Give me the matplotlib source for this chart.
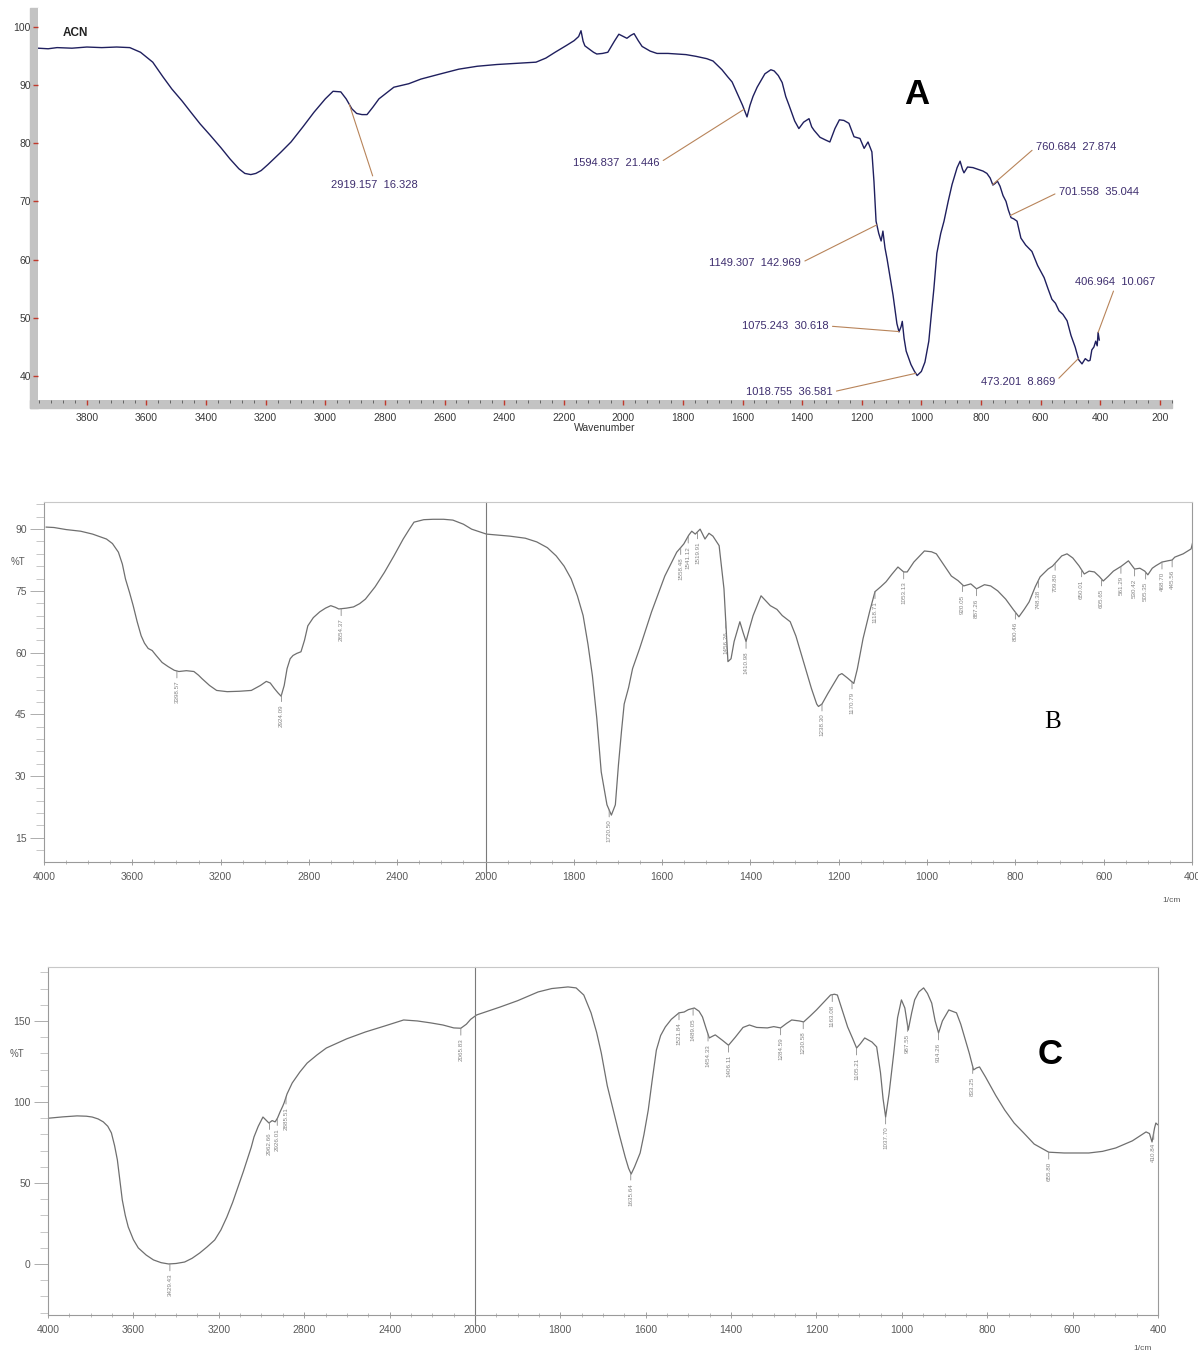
import numpy as np
import matplotlib.pyplot as plt
from matplotlib.patches import Rectangle
from matplotlib.ticker import FixedLocator, MultipleLocator

plt.rcParams['font.family'] = ['Liberation Sans', 'DejaVu Sans']

W, H = 1198, 1352

# ---- panel A (ACN): wavenumber (cm-1) / %T
a_wavenumber = [
    3964, 3930, 3900, 3850, 3800, 3750, 3700, 3656, 3620, 3579,
    3545, 3515, 3480, 3451, 3420, 3387, 3350, 3320, 3290, 3270,
    3250, 3233, 3215, 3193, 3150, 3115, 3075, 3038, 3000, 2974,
    2948, 2930, 2911, 2895, 2877, 2860, 2840, 2820, 2770, 2720,
    2679, 2620, 2552, 2490, 2424, 2360, 2293, 2260, 2229, 2190,
    2165, 2150, 2142, 2135, 2129, 2100, 2089, 2070, 2052, 2030,
    2015, 2000, 1988, 1975, 1964, 1950, 1937, 1910, 1887, 1850,
    1820, 1790, 1756, 1720, 1699, 1669, 1650, 1635, 1615, 1600,
    1585, 1575, 1565, 1551, 1525, 1505, 1494, 1480, 1467, 1455,
    1444, 1425, 1411, 1395, 1377, 1368, 1360, 1340, 1320, 1307,
    1290, 1275, 1260, 1243, 1226, 1206, 1192, 1179, 1166, 1159,
    1152, 1143, 1135, 1129, 1122, 1115, 1095, 1082, 1075, 1068,
    1064, 1058, 1051, 1035, 1024, 1014, 1000, 988, 975, 968,
    958, 948, 935, 924, 910, 897, 880, 870, 862, 857,
    845, 827, 810, 793, 780, 769, 760, 752, 745, 736,
    726, 716, 708, 699, 690, 679, 666, 650, 629, 610,
    588, 575, 562, 550, 538, 525, 511, 498, 484, 472,
    461, 450, 440, 434, 428, 421, 415, 410, 407, 403,
]
a_transmittance = [
    96.3, 96.2, 96.4, 96.3, 96.5, 96.4, 96.5, 96.4, 95.6, 93.9,
    91.4, 89.3, 87.2, 85.3, 83.3, 81.4, 79.2, 77.3, 75.6, 74.8,
    74.6, 74.8, 75.3, 76.3, 78.4, 80.2, 82.8, 85.3, 87.6, 88.9,
    88.8, 87.6, 85.9, 85.1, 84.9, 84.9, 86.2, 87.6, 89.6, 90.2,
    91.0, 91.8, 92.7, 93.2, 93.5, 93.7, 93.9, 94.6, 95.6, 96.8,
    97.6, 98.3, 99.3, 97.5, 96.7, 95.6, 95.3, 95.4, 95.6, 97.5,
    98.7, 98.3, 98.0, 98.5, 98.8, 97.6, 96.6, 95.8, 95.4, 95.4,
    95.3, 95.2, 94.9, 94.5, 94.1, 92.6, 91.4, 90.5, 88.2, 86.5,
    84.5, 86.5, 88.0, 89.6, 91.9, 92.6, 92.4, 91.6, 90.4, 88.0,
    86.5, 83.8, 82.5, 83.6, 84.2, 82.8, 82.2, 81.0, 80.5, 80.2,
    82.5, 84.0, 83.9, 83.4, 81.1, 80.8, 79.1, 80.2, 78.5, 73.4,
    66.6, 64.5, 63.2, 64.9, 62.0, 60.1, 53.9, 49.0, 47.6, 48.5,
    49.4, 46.5, 44.3, 42.0, 40.9, 40.1, 40.8, 42.4, 46.0, 49.8,
    55.0, 61.1, 64.5, 66.6, 70.0, 72.9, 75.8, 76.9, 75.5, 74.9,
    75.9, 75.8, 75.5, 75.2, 74.8, 74.0, 72.8, 73.1, 73.5, 72.6,
    71.0, 70.0, 68.5, 67.2, 67.0, 66.6, 63.7, 62.5, 61.4, 59.0,
    56.9, 55.0, 53.2, 52.5, 51.2, 50.6, 49.5, 47.0, 45.0, 42.8,
    42.1, 43.0, 42.6, 42.7, 44.5, 45.0, 46.0, 45.2, 47.5, 46.2,
]
a_peak_wn = [2919.157, 1594.837, 760.684, 701.558, 1149.307, 1075.243, 1018.755, 473.201, 406.964]
a_peak_text = ["2919.157  16.328", "1594.837  21.446", "760.684  27.874", "701.558  35.044",
               "1149.307  142.969", "1075.243  30.618", "1018.755  36.581", "473.201  8.869",
               "406.964  10.067"]

# ---- panel B
b_wavenumber = [
    3990, 3955, 3900, 3834, 3780, 3717, 3690, 3663, 3645, 3631,
    3612, 3596, 3578, 3560, 3545, 3528, 3510, 3492, 3465, 3438,
    3410, 3389, 3355, 3321, 3300, 3285, 3250, 3218, 3170, 3115,
    3061, 3020, 2993, 2975, 2957, 2940, 2926, 2912, 2899, 2885,
    2872, 2855, 2836, 2820, 2805, 2780, 2751, 2725, 2701, 2680,
    2665, 2630, 2598, 2570, 2544, 2500, 2458, 2415, 2373, 2345,
    2324, 2280, 2238, 2190, 2148, 2100, 2063, 2030, 1998, 1945,
    1910, 1884, 1860, 1840, 1822, 1806, 1792, 1779, 1768, 1758,
    1748, 1738, 1725, 1715, 1706, 1699, 1692, 1686, 1676, 1667,
    1651, 1624, 1594, 1567, 1551, 1540, 1533, 1525, 1514, 1503,
    1494, 1485, 1471, 1460, 1451, 1444, 1437, 1424, 1417, 1410,
    1402, 1394, 1376, 1355, 1340, 1328, 1310, 1297, 1284, 1262,
    1250, 1246, 1238, 1225, 1214, 1200, 1193, 1180, 1166, 1158,
    1145, 1130, 1118, 1105, 1093, 1080, 1066, 1053, 1045, 1030,
    1006, 990, 979, 960, 945, 930, 917, 901, 888, 870,
    856, 840, 822, 805, 792, 780, 769, 755, 744, 726,
    716, 705, 695, 683, 670, 656, 644, 633, 621, 610,
    601, 590, 578, 560, 544, 530, 518, 507, 500, 490,
    482, 468, 455, 445, 439, 420, 402, 398,
]
b_transmittance = [
    90.5, 90.4, 89.9, 89.5, 88.8, 87.6, 86.5, 84.4, 81.5, 77.9,
    74.5, 71.4, 67.5, 64.1, 62.3, 61.0, 60.5, 59.3, 57.6, 56.6,
    55.7, 55.4, 55.6, 55.4, 54.5, 53.7, 52.0, 50.8, 50.5, 50.6,
    50.8, 52.0, 53.0, 52.6, 51.3, 50.2, 49.4, 52.0, 56.1, 58.5,
    59.3, 59.8, 60.2, 63.0, 66.5, 68.5, 69.9, 70.8, 71.4, 71.0,
    70.6, 70.8, 71.1, 71.9, 73.0, 76.0, 79.5, 83.5, 87.6, 90.0,
    91.7, 92.3, 92.4, 92.4, 92.2, 91.2, 90.0, 89.4, 88.8, 88.3,
    87.8, 86.9, 85.5, 83.5, 81.0, 77.9, 73.8, 69.0, 62.0, 54.4,
    44.0, 31.0, 23.0, 20.5, 23.0, 32.7, 41.0, 47.5, 51.5, 56.1,
    61.0, 69.9, 78.6, 84.4, 86.4, 88.5, 89.5, 88.8, 90.0, 87.6,
    89.0, 88.3, 86.0, 75.5, 57.8, 58.5, 62.7, 67.5, 65.0, 62.7,
    66.0, 69.0, 73.8, 71.4, 70.5, 69.0, 67.5, 64.0, 59.3, 51.3,
    47.5, 46.9, 47.5, 50.0, 52.0, 54.5, 54.9, 53.8, 52.5, 56.0,
    63.4, 70.0, 74.8, 76.0, 77.2, 79.0, 80.8, 79.6, 79.6, 82.0,
    84.7, 84.5, 84.0, 81.0, 78.6, 77.5, 76.2, 76.7, 75.5, 76.5,
    76.2, 75.0, 73.0, 70.5, 68.7, 70.5, 72.3, 76.0, 78.4, 80.3,
    81.0, 82.3, 83.5, 84.0, 83.0, 81.1, 79.1, 79.8, 79.6, 78.5,
    77.4, 78.5, 79.8, 81.0, 82.3, 80.3, 80.5, 79.8, 78.9, 80.5,
    81.1, 82.0, 82.3, 82.5, 83.2, 84.0, 85.2, 87.0,
]
b_peak_wn = [3398, 2924, 2654, 1720, 1558, 1541, 1520, 1456, 1410, 1238, 1170, 1118, 1053,
             920, 888, 800, 748, 710, 650, 605, 561, 530, 505, 468, 445]
b_peak_text = ["3398.57", "2924.09", "2654.37", "1720.50", "1558.48", "1541.12", "1519.91",
               "1456.26", "1410.98", "1238.30", "1170.79", "1118.71", "1053.13", "920.05",
               "887.26", "800.46", "748.38", "709.80", "650.01", "605.65", "561.29", "530.42",
               "505.35", "468.70", "445.56"]

# ---- panel C
c_wavenumber = [
    3995, 3930, 3864, 3820, 3793, 3765, 3741, 3720, 3703, 3688,
    3675, 3662, 3652, 3638, 3624, 3600, 3577, 3540, 3506, 3470,
    3435, 3400, 3360, 3325, 3289, 3255, 3219, 3190, 3162, 3135,
    3110, 3085, 3063, 3048, 3035, 3015, 2993, 2980, 2965, 2950,
    2936, 2925, 2913, 2900, 2894, 2880, 2856, 2820, 2786, 2740,
    2696, 2600, 2513, 2420, 2334, 2270, 2207, 2150, 2099, 2066,
    2040, 2020, 1996, 1941, 1900, 1852, 1820, 1782, 1763, 1745,
    1728, 1715, 1704, 1690, 1676, 1662, 1648, 1640, 1634, 1626,
    1613, 1604, 1594, 1585, 1575, 1565, 1554, 1540, 1522, 1510,
    1500, 1486, 1475, 1467, 1458, 1451, 1444, 1437, 1420, 1406,
    1390, 1372, 1357, 1340, 1315, 1300, 1284, 1270, 1258, 1240,
    1230, 1215, 1200, 1185, 1167, 1158, 1151, 1140, 1127, 1115,
    1106, 1097, 1087, 1070, 1059, 1050, 1044, 1038, 1030, 1019,
    1010, 1001, 993, 985, 977, 970, 960, 949, 940, 930,
    922, 914, 905, 890, 872, 862, 853, 842, 832, 825,
    818, 804, 780, 759, 737, 715, 690, 656, 620, 562,
    530, 499, 460, 428, 420, 414, 408, 405, 401,
]
c_transmittance = [
    90.0, 90.8, 91.4, 91.2, 90.7, 89.5, 87.7, 85.0, 80.9, 73.0,
    64.2, 50.0, 39.5, 30.0, 22.8, 15.0, 9.9, 5.5, 2.5, 0.8,
    0.0, 0.3, 1.2, 3.5, 6.8, 10.5, 14.8, 21.0, 29.0, 38.0,
    47.5, 57.0, 66.0, 72.0, 78.4, 85.0, 90.7, 89.0, 87.0, 88.5,
    87.7, 90.0, 93.8, 97.5, 99.4, 105.0, 111.7, 118.5, 124.0, 129.0,
    133.3, 139.0, 143.2, 147.0, 150.6, 150.0, 148.8, 147.5, 145.7, 145.5,
    148.0, 151.0, 153.7, 158.6, 162.5, 167.9, 170.0, 171.0, 170.4, 166.0,
    155.0, 143.0, 130.2, 110.0, 95.0, 80.0, 66.0, 59.0, 55.5, 60.0,
    68.5, 80.0, 95.0, 113.0, 132.0, 141.0, 146.3, 151.0, 155.0, 155.5,
    157.0, 158.0, 156.0, 152.5, 145.0, 139.5, 140.5, 141.4, 138.0, 135.0,
    140.0, 146.0, 147.5, 146.0, 145.7, 146.5, 145.7, 148.5, 150.6, 150.0,
    149.4, 153.0, 156.8, 161.0, 166.0, 166.5, 166.0, 157.0, 146.3, 139.0,
    133.3, 136.0, 139.5, 137.0, 134.0, 118.0, 102.0, 90.7, 105.0, 130.0,
    152.0, 163.0, 158.0, 144.4, 155.0, 163.0, 168.0, 170.4, 167.0, 161.0,
    150.0, 142.6, 150.0, 156.8, 155.0, 148.0, 140.0, 130.0, 119.8, 121.0,
    121.6, 115.4, 104.0, 95.0, 87.0, 81.0, 74.0, 69.0, 68.5, 68.5,
    69.5, 71.6, 76.0, 81.5, 80.5, 75.3, 84.0, 87.0, 86.0,
]
c_peak_wn = [3429, 2962, 2926, 2885, 2066, 1635, 1522, 1489, 1454, 1406, 1284, 1231,
             1163, 1106, 1038, 987, 914, 834, 656, 410]
c_peak_text = ["3429.43", "2962.66", "2926.01", "2885.51", "2065.83", "1635.64", "1521.84",
               "1489.05", "1454.33", "1406.11", "1284.59", "1230.58", "1163.08", "1105.21",
               "1037.70", "987.55", "914.26", "833.25", "655.80", "410.84"]

ir_ticks = [4000, 3600, 3200, 2800, 2400, 2000, 1800, 1600, 1400, 1200, 1000, 800, 600, 400]


def px_box(left, top, right, bottom):
    return [left / W, 1 - bottom / H, (right - left) / W, (bottom - top) / H]


def fpos(x, y):
    return (x / W, 1 - y / H)


# Shimadzu charts: 4000-2000 drawn at half the scale of 2000-400
def shim_fwd(x):
    x = np.asarray(x, dtype=float)
    return np.where(x >= 2000, 1000 + x / 2, x)


def shim_inv(u):
    u = np.asarray(u, dtype=float)
    return np.where(u >= 2000, (u - 1000) * 2, u)


def peak_labels(ax, wn, tr, peaks, texts):
    xs, ys = np.asarray(wn)[::-1], np.asarray(tr)[::-1]
    for p, t in zip(peaks, texts):
        ax.annotate(t, xy=(p, np.interp(p, xs, ys)), xytext=(0, -7), textcoords='offset points',
                    rotation=90, ha='center', va='top', fontsize=4.5, color='#858585',
                    arrowprops=dict(arrowstyle='-', color='#8a8a8a', lw=0.6,
                                    shrinkA=0, shrinkB=0, relpos=(0.5, 1.0)))


def shim_panel(rect, wn, tr, ylim, yticks, yminor, color_top='#c8c8c8'):
    ax = fig.add_axes(rect)
    ax.set_xscale('function', functions=(shim_fwd, shim_inv))
    ax.plot(wn, tr, color='#6f6f6f', lw=0.9)
    ax.set_xlim(4000, 400)
    ax.set_ylim(*ylim)
    ax.axvline(2000, ymin=-0.03, ymax=1, color='#7a7a7a', lw=0.8, clip_on=False)
    ax.spines['top'].set_color(color_top)
    for s in ('left', 'bottom', 'right'):
        ax.spines[s].set_color('#9a9a9a')
        ax.spines[s].set_linewidth(0.8)
    ax.set_xticks(ir_ticks, [str(t) for t in ir_ticks])
    ax.xaxis.set_minor_locator(FixedLocator(list(range(4000, 2000, -100)) + list(range(2000, 399, -50))))
    ax.set_yticks(yticks, [str(t) for t in yticks])
    ax.yaxis.set_minor_locator(MultipleLocator(yminor))
    ax.tick_params(axis='y', which='major', length=10, width=0.6, color='#a0a0a0',
                   labelsize=7.5, labelcolor='#5a5a5a', pad=2.5)
    ax.tick_params(axis='y', which='minor', length=6, width=0.5, color='#b0b0b0')
    ax.tick_params(axis='x', which='major', direction='inout', length=5, width=0.6,
                   color='#909090', labelsize=7.5, labelcolor='#5a5a5a', pad=5)
    ax.tick_params(axis='x', which='minor', direction='inout', length=3, width=0.5, color='#a0a0a0')
    return ax


fig = plt.figure(figsize=(W / 100, H / 100), dpi=100)

# ---------------- panel A
for x, y, w, h in [(30, 8, 8, 400), (30, 400, 1142, 8)]:
    fig.add_artist(Rectangle((x / W, 1 - (y + h) / H), w / W, h / H, transform=fig.transFigure,
                             color='#c3c3c3', zorder=-1))
axA = fig.add_axes(px_box(38, 8, 1172, 400))
axA.plot(a_wavenumber, a_transmittance, color='#1f1f5e', lw=1.0)
axA.set_xlim(3964, 159)
axA.set_ylim(35.9, 103.2)
for s in axA.spines.values():
    s.set_visible(False)
axA.set_xticks(range(3800, 199, -200))
axA.xaxis.set_minor_locator(MultipleLocator(40))
axA.set_yticks(range(40, 101, 10))
axA.tick_params(axis='both', which='major', color='#c0392b', length=3.6, width=1.0,
                labelsize=7.5, labelcolor='#3a3a3a')
axA.tick_params(axis='x', which='major', pad=5.5)
axA.tick_params(axis='y', which='major', pad=1.5)
axA.tick_params(axis='x', which='minor', color='#555555', length=2.5, width=0.6)
axA.set_xlabel('Wavenumber', fontsize=7.5, labelpad=0, color='#333333')

a_label_xy = [(374, 185), (616, 163), (1076, 147), (1099, 192), (755, 263),
              (785, 326), (789, 392), (1018, 382), (1115, 282)]
a_label_rel = [(0.5, 1.0), (1.0, 0.5), (0.0, 0.5), (0.0, 0.5), (1.0, 0.5),
               (1.0, 0.5), (1.0, 0.5), (1.0, 0.5), (0.5, 0.0)]
xs_a, ys_a = np.asarray(a_wavenumber)[::-1], np.asarray(a_transmittance)[::-1]
for p, t, (tx, ty), rel in zip(a_peak_wn, a_peak_text, a_label_xy, a_label_rel):
    axA.annotate(t, xy=(p, np.interp(p, xs_a, ys_a)), xytext=fpos(tx, ty),
                 textcoords='figure fraction', ha='center', va='center', fontsize=8,
                 color='#3d2d6e',
                 arrowprops=dict(arrowstyle='-', color='#b8845a', lw=0.8,
                                 shrinkA=1, shrinkB=0, relpos=rel))
fig.text(*fpos(63, 33), 'ACN', fontsize=8.5, fontweight='bold', ha='left', va='center', color='#222222')
fig.text(*fpos(917, 95), 'A', fontsize=25, fontweight='bold', ha='center', va='center')

# ---------------- panel B
axB = shim_panel(px_box(44, 502, 1192, 862), b_wavenumber, b_transmittance,
                 (9.1, 96.6), [15, 30, 45, 60, 75, 90], 3)
peak_labels(axB, b_wavenumber, b_transmittance, b_peak_wn, b_peak_text)
fig.text(*fpos(18, 562), '%T', fontsize=7, color='#5a5a5a', ha='center', va='center')
fig.text(*fpos(1172, 901), '1/cm', fontsize=6, color='#5a5a5a', ha='center', va='center')
fig.text(*fpos(1053, 722), 'B', fontsize=18, family='Liberation Serif', ha='center', va='center')

# ---------------- panel C
axC = shim_panel(px_box(48, 967, 1158, 1315), c_wavenumber, c_transmittance,
                 (-31.5, 183.3), [0, 50, 100, 150], 10)
peak_labels(axC, c_wavenumber, c_transmittance, c_peak_wn, c_peak_text)
fig.text(*fpos(17, 1054), '%T', fontsize=7, color='#5a5a5a', ha='center', va='center')
fig.text(*fpos(1143, 1348), '1/cm', fontsize=6, color='#5a5a5a', ha='center', va='center')
fig.text(*fpos(1050, 1055), 'C', fontsize=25, fontweight='bold', ha='center', va='center')

fig.savefig('out.png', dpi=100)
